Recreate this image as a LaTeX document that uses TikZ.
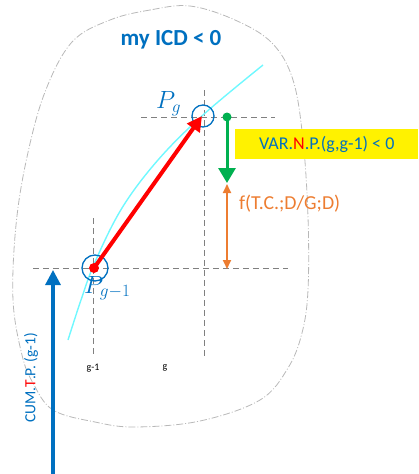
\documentclass[tikz,border=0pt]{standalone}
\usepackage{fontspec}
\setmainfont{Carlito}
\usetikzlibrary{arrows.meta}
\definecolor{icdblue}{HTML}{0070C0}
\definecolor{icdgreen}{HTML}{00B050}
\definecolor{icdorange}{HTML}{ED7D31}
\definecolor{icdcyan}{HTML}{70F8FF}
\tikzstyle{blob}=[draw=black!28, line width=0.8pt, dash pattern=on 7pt off 2pt on 1pt off 2pt]
\tikzstyle{guide}=[draw=black!50, line width=0.9pt, dash pattern=on 6pt off 4pt]
\tikzstyle{ring}=[circle, draw=icdblue, line width=1.3pt, inner sep=0pt]
\tikzstyle{plabel}=[text=icdblue, font=\fontsize{23}{25}\selectfont, inner sep=0pt]
\tikzstyle{axislabel}=[font=\fontsize{10}{12}\selectfont, inner sep=0pt]

\begin{document}
\begin{tikzpicture}[x=1pt,y=-1pt]
    \useasboundingbox (0,0) rectangle (418,474);
    % outline
    \draw[blob] plot[smooth cycle, tension=0.6] coordinates {(190,6) (150,10) (110,20) (72,42) (45,92) (27,157) (16,225) (13,300) (22,355) (33,383) (53,410) (95,422) (135,427) (200,421) (260,400) (288,368) (302,333) (308,290) (308,217) (303,140) (293,80) (272,43) (235,20)};
    % guides
    \draw[guide] (141,117) -- (275,117);
    \draw[guide] (204,90) -- (204,357);
    \draw[guide] (33,268) -- (288,268);
    \draw[guide] (93,218) -- (93,357);
    \node[axislabel] (lprev) at (93,368) {g-1};
    \node[axislabel] (lcur) at (165,368) {g};
    % curve
    \draw[icdcyan, line width=1.4pt] plot[smooth, tension=0.6] coordinates {(68,340) (81,300) (95,262) (122,208) (158,160) (203,115) (263,65)};
    % points
    \coordinate (Pprev) at (94,268);
    \coordinate (Pcur) at (202,116);
    \node[ring, minimum size=26pt] (ringprev) at (95,268) {};
    \node[ring, minimum size=22pt] (ringcur) at (203,116) {};
    \fill[red] (Pprev) circle (5);
    \draw[red, line width=4pt, -{Triangle[length=15pt,width=15pt]}] (Pprev) -- (Pcur);
    \node[plabel, anchor=south west] (pg) at (156,116) {$P_g$};
    \node[plabel, anchor=north west] (pgm) at (84,276) {$P_{g-1}$};
    % variation
    \node[circle, fill=icdgreen, inner sep=0pt, minimum size=9pt] (gdot) at (227,117) {};
    \coordinate (gtip) at (227,183);
    \draw[icdgreen, line width=3pt, -{Triangle[length=15pt,width=17pt]}] (gdot.center) -- (gtip);
    \coordinate (otop) at (227,184);
    \coordinate (obot) at (227,269);
    \draw[icdorange, line width=2pt, {Triangle[length=9pt,width=8pt]}-{Triangle[length=9pt,width=8pt]}] (otop) -- (obot);
    \node[text=icdorange, anchor=west, font=\fontsize{19.8}{22}\selectfont, inner sep=0pt] (fdep) at (239,204) {f(T.C.;D/G;D)};
    \node[fill=yellow, anchor=west, minimum width=183pt, minimum height=30pt, inner sep=0pt, text=icdblue, font=\fontsize{18}{20}\selectfont] (var) at (235,144) {VAR.\textcolor{red}{N}.P.(g,g-1) < 0};
    % title
    \node[text=icdblue, font=\fontsize{23}{25}\bfseries\selectfont, inner sep=0pt] (title) at (171,40) {my ICD < 0};
    % cumulative
    \coordinate (cumbase) at (53,474);
    \coordinate (cumtip) at (53,270);
    \draw[icdblue, line width=3.2pt, -{Triangle[length=15pt,width=15pt]}] (cumbase) -- (cumtip);
    \node[text=icdblue, rotate=90, font=\fontsize{15.5}{17}\selectfont, inner sep=0pt] (cum) at (31,378) {CUM.\textcolor{red}{T}.P. (g-1)};
\end{tikzpicture}
\end{document}
